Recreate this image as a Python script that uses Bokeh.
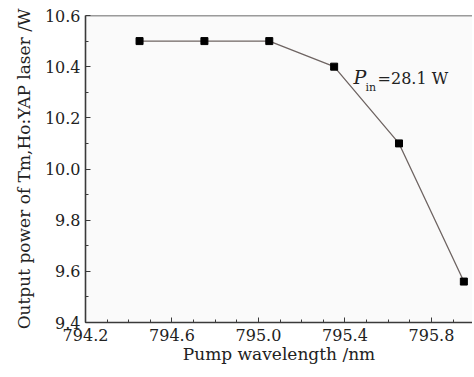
from bokeh.plotting import figure
from bokeh.models import Range1d, FixedTicker, Span, Label, NumeralTickFormatter
from bokeh.embed import file_html
from bokeh.resources import INLINE

wavelength = [794.45, 794.75, 795.05, 795.35, 795.65, 795.95]
power = [10.5, 10.5, 10.5, 10.4, 10.1, 9.56]
x_ticks = [794.2, 794.6, 795.0, 795.4, 795.8]
y_ticks = [9.4, 9.6, 9.8, 10.0, 10.2, 10.4, 10.6]

FONT = "DejaVu Serif"

p = figure(width=472, height=369, output_backend="svg", toolbar_location=None,
           x_range=Range1d(794.2, 795.99), y_range=Range1d(9.4, 10.6),
           min_border_left=85, min_border_top=15, min_border_bottom=47, min_border_right=0)
p.outline_line_color = None
p.background_fill_color = "#fafafa"
p.border_fill_color = "white"
p.grid.grid_line_color = None

p.line(wavelength, power, line_color="#6e6462", line_width=1.3)
p.scatter(wavelength, power, marker="square", size=7, fill_color="black", line_color="black")

for ax in (p.xaxis[0], p.yaxis[0]):
    ax.axis_line_color = "#3a3a3a"
    ax.axis_line_width = 1.6
    ax.major_tick_line_color = "#3a3a3a"
    ax.minor_tick_line_color = "#3a3a3a"
    ax.major_tick_in = 5
    ax.major_tick_out = 0
    ax.minor_tick_in = 3
    ax.minor_tick_out = 0
    ax.major_label_text_font = FONT
    ax.major_label_text_font_size = "16px"
    ax.major_label_text_color = "#222222"
    ax.axis_label_text_font = FONT
    ax.axis_label_text_font_size = "17px"
    ax.axis_label_text_font_style = "normal"
    ax.axis_label_text_color = "#222222"

p.xaxis[0].ticker = FixedTicker(ticks=x_ticks, minor_ticks=[794.2 + 0.1 * i for i in range(19)])
p.yaxis[0].ticker = FixedTicker(ticks=y_ticks, minor_ticks=[9.4 + 0.1 * i for i in range(13)])
p.xaxis[0].formatter = NumeralTickFormatter(format="0.0")
p.yaxis[0].formatter = NumeralTickFormatter(format="0.0")
p.xaxis[0].axis_label = "Pump wavelength /nm"
p.yaxis[0].axis_label = "Output power of Tm,Ho:YAP laser /W"
p.xaxis[0].major_label_standoff = 6
p.xaxis[0].axis_label_standoff = 0
p.yaxis[0].major_label_standoff = 5
p.yaxis[0].axis_label_standoff = 8

p.add_layout(Span(location=10.6, dimension="width", line_color="#3a3a3a", line_width=1.6))

p.add_layout(Label(x=795.44, y=10.315, text="P", text_font=FONT, text_font_style="italic",
                   text_font_size="19px", text_color="#222222"))
p.add_layout(Label(x=795.44, y=10.315, x_offset=12, y_offset=-6, text="in", text_font=FONT,
                   text_font_size="11px", text_color="#222222"))
p.add_layout(Label(x=795.44, y=10.315, x_offset=24, text="=28.1 W", text_font=FONT,
                   text_font_size="16px", text_color="#222222"))

open("out.html", "w").write(file_html(p, INLINE))
